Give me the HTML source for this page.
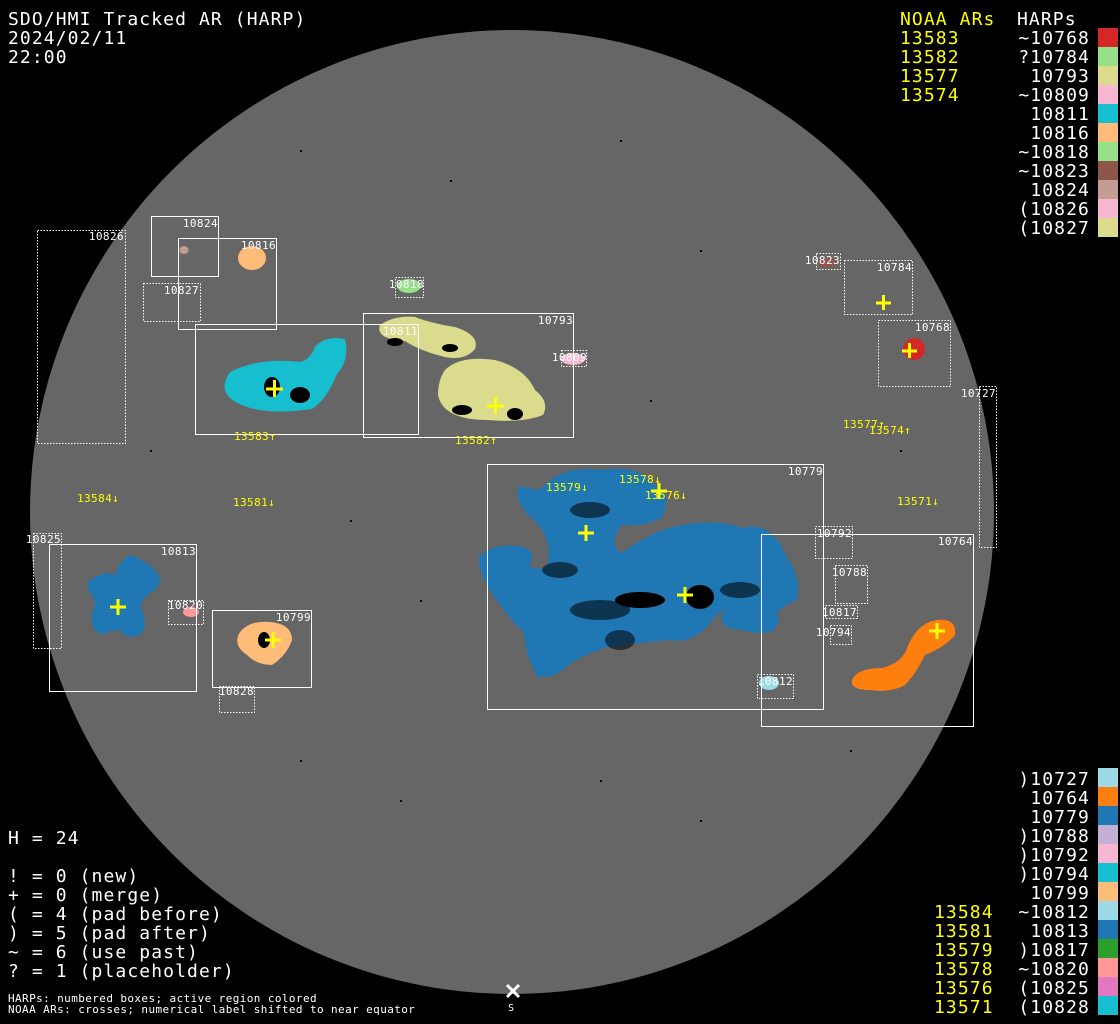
<!DOCTYPE html>
<html><head><meta charset="utf-8"><style>
html,body{margin:0;padding:0;background:#000;}
body{width:1120px;height:1024px;position:relative;overflow:hidden;font-family:"DejaVu Sans Mono","Liberation Mono",monospace;}
.t{position:absolute;color:#fff;font-size:18px;line-height:19px;white-space:pre;letter-spacing:1.1px;}
.y{color:#ff0;}
.sw{position:absolute;left:1098px;width:20px;height:19px;}
svg{position:absolute;left:0;top:0;}
</style></head><body>
<svg width="1120" height="1024" viewBox="0 0 1120 1024" font-family="DejaVu Sans Mono, Liberation Mono, monospace">
<circle cx="512" cy="512" r="482" fill="#666"/>
<g fill="#000">
<rect x="300" y="150" width="2" height="2"/><rect x="450" y="180" width="2" height="2"/><rect x="620" y="140" width="2" height="2"/><rect x="700" y="250" width="2" height="2"/><rect x="350" y="520" width="2" height="2"/><rect x="420" y="600" width="2" height="2"/><rect x="150" y="450" width="2" height="2"/><rect x="600" y="780" width="2" height="2"/><rect x="400" y="800" width="2" height="2"/><rect x="700" y="820" width="2" height="2"/><rect x="850" y="750" width="2" height="2"/><rect x="300" y="760" width="2" height="2"/><rect x="900" y="450" width="2" height="2"/><rect x="650" y="400" width="2" height="2"/>
</g>
<path d="M180 248 q4-4 8 0 q2 5-4 6 q-6-1-4-6z" fill="#c49c94"/>
<ellipse cx="252" cy="258" rx="14" ry="12" fill="#ffbb78"/>
<ellipse cx="409" cy="286" rx="12" ry="7" fill="#98df8a"/>
<ellipse cx="573" cy="359" rx="12" ry="6" fill="#f7b6d2"/>
<ellipse cx="827" cy="263" rx="9" ry="5" fill="#8c564b"/>
<ellipse cx="914" cy="349" rx="11" ry="11" fill="#d62728"/>
<path d="M230 372 q30-15 70-10 q10-2 15-15 q10-12 30-8 q5 20-8 35 q-10 25-25 35 q-40 6-65-2 q-30-10-20-30z" fill="#17becf"/>
<path d="M380 325 q15-10 35-8 q15 6 40 10 q25 8 20 22 q-10 12-30 8 q-25-6-40-16 q-30-2-25-16z" fill="#dbdb8d"/>
<path d="M445 370 q15-15 50-10 q30 8 40 30 q15 12 8 25 q-20 8-55 5 q-45 0-50-25 q0-15 7-25z" fill="#dbdb8d"/>
<path d="M540 490 q20-25 60-20 q40-5 50 12 q25 10 12 35 q-15 10-40 8 q-15 20 0 28 q40-30 80-30 q20-2 40 5 q30-8 45 30 q15 20 10 42 q-25 10-18 20 q-5 20-35 10 q-30 0-20-20 q-10 5-15 15 q-20 20-40 15 q-50 5-65 8 q-30 10-45 25 q-25 10-25-5 q-8-10-10-35 q-20-20-25-30 q-20-25-20-45 q10-15 40-12 q20 5 10 20 q20 8 20-10 q0-25-20-40 q-15-15-10-30z" fill="#1f77b4"/>
<path d="M852 680 q5-12 30-12 q20-5 25-20 q10-25 30-28 q20-2 18 15 q-10 12-30 20 q-10 20-20 30 q-15 8-35 5 q-20 0-18-10z" fill="#ff7f0e"/>
<ellipse cx="769" cy="683" rx="10" ry="7" fill="#9edae5"/>
<path d="M90 580 q15-10 25-5 q5-15 15-20 q15 5 25 15 q10 10 0 20 q-10 5-15 15 q10 20 0 30 q-15 5-20-5 q-10 0-18 5 q-12-5-10-20 q5-15 0-20 q-8-8-2-15z" fill="#1f77b4"/>
<ellipse cx="191" cy="612" rx="8" ry="5" fill="#ff9896"/>
<path d="M240 632 q10-12 30-10 q22 2 22 18 q-5 15-20 25 q-15 0-25-10 q-15-10-7-23z" fill="#ffbb78"/>
<g fill="#000">
<ellipse cx="272" cy="387" rx="8" ry="10"/><ellipse cx="300" cy="395" rx="10" ry="8"/><ellipse cx="515" cy="414" rx="8" ry="6"/><ellipse cx="462" cy="410" rx="10" ry="5"/>
<ellipse cx="700" cy="597" rx="14" ry="12"/><ellipse cx="640" cy="600" rx="25" ry="8"/><ellipse cx="264" cy="640" rx="6" ry="8"/>
<ellipse cx="395" cy="342" rx="8" ry="4"/><ellipse cx="450" cy="348" rx="8" ry="4"/>
</g>
<g fill="#000" opacity=".55">
<ellipse cx="600" cy="610" rx="30" ry="10"/><ellipse cx="560" cy="570" rx="18" ry="8"/><ellipse cx="740" cy="590" rx="20" ry="8"/><ellipse cx="590" cy="510" rx="20" ry="8"/><ellipse cx="620" cy="640" rx="15" ry="10"/>
</g>
<g fill="none" stroke="#fff" stroke-width="1">
<rect x="151.5" y="216.5" width="67" height="60"/>
<rect x="178.5" y="238.5" width="98" height="91"/>
<rect x="195.5" y="324.5" width="223" height="110"/>
<rect x="363.5" y="313.5" width="210" height="124"/>
<rect x="487.5" y="464.5" width="336" height="245"/>
<rect x="761.5" y="534.5" width="212" height="192"/>
<rect x="49.5" y="544.5" width="147" height="147"/>
<rect x="212.5" y="610.5" width="99" height="77"/>
</g>
<g fill="none" stroke="#fff" stroke-width="1" stroke-dasharray="1.5,1.5">
<rect x="37.5" y="230.5" width="88" height="213"/>
<rect x="143.5" y="283.5" width="57" height="38"/>
<rect x="395.5" y="277.5" width="28" height="20"/>
<rect x="561.5" y="350.5" width="25" height="16"/>
<rect x="816.5" y="253.5" width="24" height="16"/>
<rect x="844.5" y="260.5" width="68" height="54"/>
<rect x="878.5" y="320.5" width="72" height="66"/>
<rect x="979.5" y="386.5" width="17" height="161"/>
<rect x="815.5" y="526.5" width="37" height="32"/>
<rect x="835.5" y="565.5" width="32" height="38"/>
<rect x="825.5" y="605.5" width="32" height="13"/>
<rect x="830.5" y="625.5" width="21" height="19"/>
<rect x="757.5" y="674.5" width="36" height="24"/>
<rect x="33.5" y="533.5" width="28" height="115"/>
<rect x="168.5" y="600.5" width="35" height="24"/>
<rect x="219.5" y="686.5" width="35" height="26"/>
</g>
<g fill="#fff" font-size="11" text-anchor="end" letter-spacing="0.4">
<text x="124" y="240">10826</text><text x="218" y="227">10824</text><text x="276" y="249">10816</text>
<text x="199" y="294">10827</text><text x="418" y="335">10811</text><text x="573" y="324">10793</text>
<text x="424" y="288">10818</text><text x="587" y="361">10809</text><text x="840" y="264">10823</text>
<text x="912" y="271">10784</text><text x="950" y="331">10768</text><text x="996" y="397">10727</text>
<text x="823" y="475">10779</text><text x="973" y="545">10764</text><text x="852" y="537">10792</text>
<text x="867" y="576">10788</text><text x="857" y="616">10817</text><text x="851" y="636">10794</text>
<text x="793" y="685">10812</text><text x="61" y="543">10825</text><text x="196" y="555">10813</text>
<text x="203" y="609">10820</text><text x="311" y="621">10799</text><text x="254" y="695">10828</text>
</g>
<g fill="#ff0" font-size="11" letter-spacing="0.4">
<text x="234" y="440">13583↑</text><text x="455" y="444">13582↑</text><text x="843" y="428">13577↑</text>
<text x="869" y="434">13574↑</text><text x="77" y="502">13584↓</text><text x="233" y="506">13581↓</text>
<text x="546" y="491">13579↓</text><text x="619" y="483">13578↓</text><text x="645" y="499">13576↓</text>
<text x="897" y="505">13571↓</text>
</g>
<g stroke="#ff0" stroke-width="3">
<path d="M266 389h17M274.5 380v17"/><path d="M487 406h17M495.5 397v17"/><path d="M876 303h15M883.5 295v15"/>
<path d="M902 351h15M909.5 343v15"/><path d="M578 533h16M586 525v16"/><path d="M651 491h16M659 483v16"/>
<path d="M677 595h16M685 587v16"/><path d="M929 631h16M937 623v16"/><path d="M110 607h16M118 599v16"/>
<path d="M265 640h16M273 632v16"/>
</g>
<path d="M507 985l12 12M519 985l-12 12" stroke="#fff" stroke-width="3"/>
<text x="508" y="1011" fill="#fff" font-size="10">S</text>
<g fill="#fff" font-size="11" letter-spacing="0.4"><text x="8" y="1002">HARPs: numbered boxes; active region colored</text><text x="8" y="1013">NOAA ARs: crosses; numerical label shifted to near equator</text></g>
</svg>
<div class="t" style="left:8px;top:10px">SDO/HMI Tracked AR (HARP)
2024/02/11
22:00</div>
<div class="t y" style="left:900px;top:10px">NOAA ARs
13583
13582
13577
13574</div>
<div class="t" style="left:1017px;top:10px">HARPs</div>
<div class="t" style="left:1000px;top:29px;text-align:right;width:90px">~10768
?10784
10793
~10809
10811
10816
~10818
~10823
10824
(10826
(10827</div>
<div class="sw" style="top:28px;background:#d62728"></div><div class="sw" style="top:47px;background:#98df8a"></div><div class="sw" style="top:66px;background:#dbdb8d"></div><div class="sw" style="top:85px;background:#f7b6d2"></div><div class="sw" style="top:104px;background:#17becf"></div><div class="sw" style="top:123px;background:#ffbb78"></div><div class="sw" style="top:142px;background:#98df8a"></div><div class="sw" style="top:161px;background:#8c564b"></div><div class="sw" style="top:180px;background:#c49c94"></div><div class="sw" style="top:199px;background:#f7b6d2"></div><div class="sw" style="top:218px;background:#dbdb8d"></div>
<div class="t" style="left:1000px;top:770px;text-align:right;width:90px">)10727
10764
10779
)10788
)10792
)10794
10799
~10812
10813
)10817
~10820
(10825
(10828</div>
<div class="t y" style="left:934px;top:903px">13584
13581
13579
13578
13576
13571</div>
<div class="sw" style="top:768px;background:#9edae5"></div><div class="sw" style="top:787px;background:#ff7f0e"></div><div class="sw" style="top:806px;background:#1f77b4"></div><div class="sw" style="top:825px;background:#c5b0d5"></div><div class="sw" style="top:844px;background:#f7b6d2"></div><div class="sw" style="top:863px;background:#17becf"></div><div class="sw" style="top:882px;background:#ffbb78"></div><div class="sw" style="top:901px;background:#9edae5"></div><div class="sw" style="top:920px;background:#1f77b4"></div><div class="sw" style="top:939px;background:#2ca02c"></div><div class="sw" style="top:958px;background:#ff9896"></div><div class="sw" style="top:977px;background:#e377c2"></div><div class="sw" style="top:996px;background:#17becf"></div>
<div class="t" style="left:8px;top:829px">H = 24

! = 0 (new)
+ = 0 (merge)
( = 4 (pad before)
) = 5 (pad after)
~ = 6 (use past)
? = 1 (placeholder)</div>
</body></html>
